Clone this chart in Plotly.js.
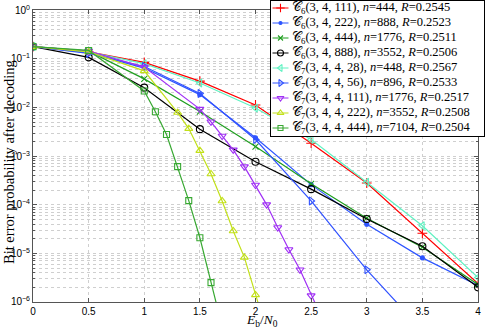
<!DOCTYPE html>
<html>
<head>
<meta charset="utf-8">
<script src="https://cdn.plot.ly/plotly-3.0.1.min.js"></script>
<style>body{margin:0;background:#fff} #chart{width:485px;height:329px}</style>
</head>
<body>
<div id="chart"></div>
<script>
// Eb/N0 grid of the simulations
let ebn0 = [0, 0.5, 1, 1.5, 2, 2.5, 3, 3.5, 4];
let ebn0_56 = [0, 0.5, 1, 1.5, 2, 2.5, 3, 3.5];
let ebn0_111 = [0, 0.5, 1, 1.5, 1.6, 1.7, 1.8, 1.9, 2.0, 2.1, 2.2, 2.3, 2.4, 2.5, 2.6];
let ebn0_222 = [0, 0.5, 1, 1.3, 1.4, 1.5, 1.6, 1.7, 1.8, 1.9, 2.0, 2.1];
let ebn0_444 = [0, 0.5, 1, 1.1, 1.2, 1.3, 1.4, 1.5, 1.6, 1.7];

// bit error probability after decoding
let c6_111 = [0.18, 0.14, 0.085, 0.035, 0.0113, 1.85e-3, 2.8e-4, 2.6e-5, 2.4e-6];
let c6_222 = [0.18, 0.135, 0.065, 0.0185, 2.4e-3, 2.6e-4, 4.0e-5, 8.1e-6, 2.2e-6];
let c6_444 = [0.18, 0.145, 0.039, 0.0083, 1.58e-3, 2.7e-4, 5.3e-5, 1.34e-5, 2.3e-6];
let c6_888 = [0.18, 0.108, 0.0257, 0.0036, 7.7e-4, 2.1e-4, 5.1e-5, 1.4e-5, 2.0e-6];
let c7_28 = [0.18, 0.14, 0.08, 0.032, 0.0098, 2.2e-3, 2.9e-4, 3.7e-5, 3.2e-6];
let c7_56 = [0.18, 0.13, 0.07, 0.0195, 2.2e-3, 1.2e-4, 4.6e-6, 2.6e-7];
let c7_111 = [0.18, 0.145, 0.068, 0.0093, 5.1e-3, 2.6e-3, 1.35e-3, 6.1e-4, 2.55e-4, 1.01e-4, 3.4e-5, 1.2e-5, 4.6e-6, 1.35e-6, 4.5e-7];
let c7_222 = [0.18, 0.14, 0.057, 7.9e-3, 3.7e-3, 1.3e-3, 4.3e-4, 1.2e-4, 2.9e-5, 8.3e-6, 1.4e-6, 2.5e-7];
let c7_444 = [0.18, 0.15, 0.022, 8.2e-3, 2.8e-3, 6.1e-4, 1.22e-4, 2.1e-5, 2.5e-6, 3.1e-7];

let names = [
  '𝒞<sub>6</sub>(3, 4, 111), <i>n</i>=444, <i>R</i>=0.2545',
  '𝒞<sub>6</sub>(3, 4, 222), <i>n</i>=888, <i>R</i>=0.2523',
  '𝒞<sub>6</sub>(3, 4, 444), <i>n</i>=1776, <i>R</i>=0.2511',
  '𝒞<sub>6</sub>(3, 4, 888), <i>n</i>=3552, <i>R</i>=0.2506',
  '𝒞<sub>7</sub>(3, 4, 4, 28), <i>n</i>=448, <i>R</i>=0.2567',
  '𝒞<sub>7</sub>(3, 4, 4, 56), <i>n</i>=896, <i>R</i>=0.2533',
  '𝒞<sub>7</sub>(3, 4, 4, 111), <i>n</i>=1776, <i>R</i>=0.2517',
  '𝒞<sub>7</sub>(3, 4, 4, 222), <i>n</i>=3552, <i>R</i>=0.2508',
  '𝒞<sub>7</sub>(3, 4, 4, 444), <i>n</i>=7104, <i>R</i>=0.2504'
];

let yTickVals = [1, 0.1, 0.01, 1e-3, 1e-4, 1e-5, 1e-6];
let yTickText = ['10<sup>0</sup>', '10<sup>−1</sup>', '10<sup>−2</sup>', '10<sup>−3</sup>',
                 '10<sup>−4</sup>', '10<sup>−5</sup>', '10<sup>−6</sup>'];

let xs = [ebn0, ebn0, ebn0, ebn0, ebn0, ebn0_56, ebn0_111, ebn0_222, ebn0_444];
let ys = [c6_111, c6_222, c6_444, c6_888, c7_28, c7_56, c7_111, c7_222, c7_444];

// styles
let colors = ['#ff0000', '#2d55ff', '#1f9e1f', '#000000', '#60f2c2', '#3152ff', '#a030f5', '#c2e01a', '#38a832'];
let symbols = ['cross-thin-open', 'circle', 'x-thin-open', 'circle-open', 'triangle-left-open',
               'triangle-right-open', 'triangle-down-open', 'triangle-up-open', 'square-open'];
let sizes = [7, 4, 6, 7, 7, 7, 7, 7, 6];
let serif = 'Liberation Serif, DejaVu Serif, serif';

let data = [];
for (let i = 0; i < ys.length; i++) {
  data.push({
    x: xs[i], y: ys[i], type: 'scatter', mode: 'lines+markers', name: names[i],
    showlegend: false, cliponaxis: true,
    line: {color: colors[i], width: 1.2},
    marker: {symbol: symbols[i], size: sizes[i], color: colors[i], line: {color: colors[i], width: 1.1}}
  });
}

// legend drawn in a small overlapping subplot so rows can be packed like the original
let annotations = [];
for (let i = 0; i < names.length; i++) {
  let rowY = 7.5 + 15 * i;
  data.push({
    x: [1.5, 9.5, 17.5], y: [rowY, rowY, rowY], xaxis: 'x2', yaxis: 'y2',
    type: 'scatter', mode: 'lines+markers', showlegend: false, hoverinfo: 'skip',
    line: {color: colors[i], width: 1.2},
    marker: {symbol: symbols[i], size: sizes[i] - 1, color: colors[i], opacity: [0, 1, 0],
             line: {color: colors[i], width: 1.1}}
  });
  annotations.push({
    xref: 'x2', yref: 'y2', x: 19, y: rowY, xanchor: 'left', yanchor: 'middle',
    text: names[i], showarrow: false,
    font: {family: serif, size: 12.5, color: '#000'}
  });
}

// axis titles as annotations so they sit where the original has them
annotations.push({
  xref: 'paper', yref: 'paper', x: 0, y: 0.4636, xshift: -24, textangle: -90,
  xanchor: 'center', yanchor: 'middle', showarrow: false,
  text: 'Bit error probability after decoding',
  font: {family: serif, size: 14.5, color: '#000'}
});
annotations.push({
  xref: 'paper', yref: 'paper', x: 0.5, y: 0, xshift: 3, yshift: -18.5,
  xanchor: 'center', yanchor: 'middle', showarrow: false,
  text: '<i>E</i><sub>b</sub>/<i>N</i><sub>0</sub>',
  font: {family: serif, size: 13.5, color: '#000'}
});

let gridColor = '#cfcfcf';

let layout = {
  width: 485, height: 329,
  margin: {l: 33, r: 1, t: 0, b: 27},
  paper_bgcolor: '#fff', plot_bgcolor: '#fff',
  font: {family: 'Liberation Sans, Arial, sans-serif', size: 10, color: '#000'},
  xaxis: {
    domain: [0, 0.9867], range: [0, 4], dtick: 0.5, tick0: 0,
    showgrid: true, gridcolor: gridColor, griddash: 'dot', gridwidth: 1,
    zeroline: false, showline: true, linecolor: '#555', linewidth: 1, mirror: 'ticks',
    ticks: 'inside', ticklen: 4, tickcolor: '#555'
  },
  yaxis: {
    domain: [0, 0.9656], type: 'log', range: [-6, 0],
    tickvals: yTickVals, ticktext: yTickText,
    showgrid: true, gridcolor: gridColor, griddash: 'dot', gridwidth: 1,
    zeroline: false, showline: true, linecolor: '#555', linewidth: 1, mirror: 'ticks',
    ticks: 'inside', ticklen: 4, tickcolor: '#555',
    minor: {dtick: 'D1', showgrid: true, gridcolor: gridColor, griddash: 'dot', gridwidth: 1,
            ticks: 'inside', ticklen: 2, tickcolor: '#555'}
  },
  xaxis2: {
    domain: [0.5277, 1], range: [0, 213], anchor: 'y2',
    showgrid: false, zeroline: false, showticklabels: false, ticks: '',
    showline: true, mirror: true, linecolor: '#000', linewidth: 1, fixedrange: true
  },
  yaxis2: {
    domain: [0.5497, 0.9983], range: [135.5, 0], anchor: 'x2',
    showgrid: false, zeroline: false, showticklabels: false, ticks: '',
    showline: true, mirror: true, linecolor: '#000', linewidth: 1, fixedrange: true
  },
  annotations: annotations,
  showlegend: false
};

Plotly.newPlot('chart', data, layout, {displayModeBar: false, staticPlot: true});
</script>
</body>
</html>
